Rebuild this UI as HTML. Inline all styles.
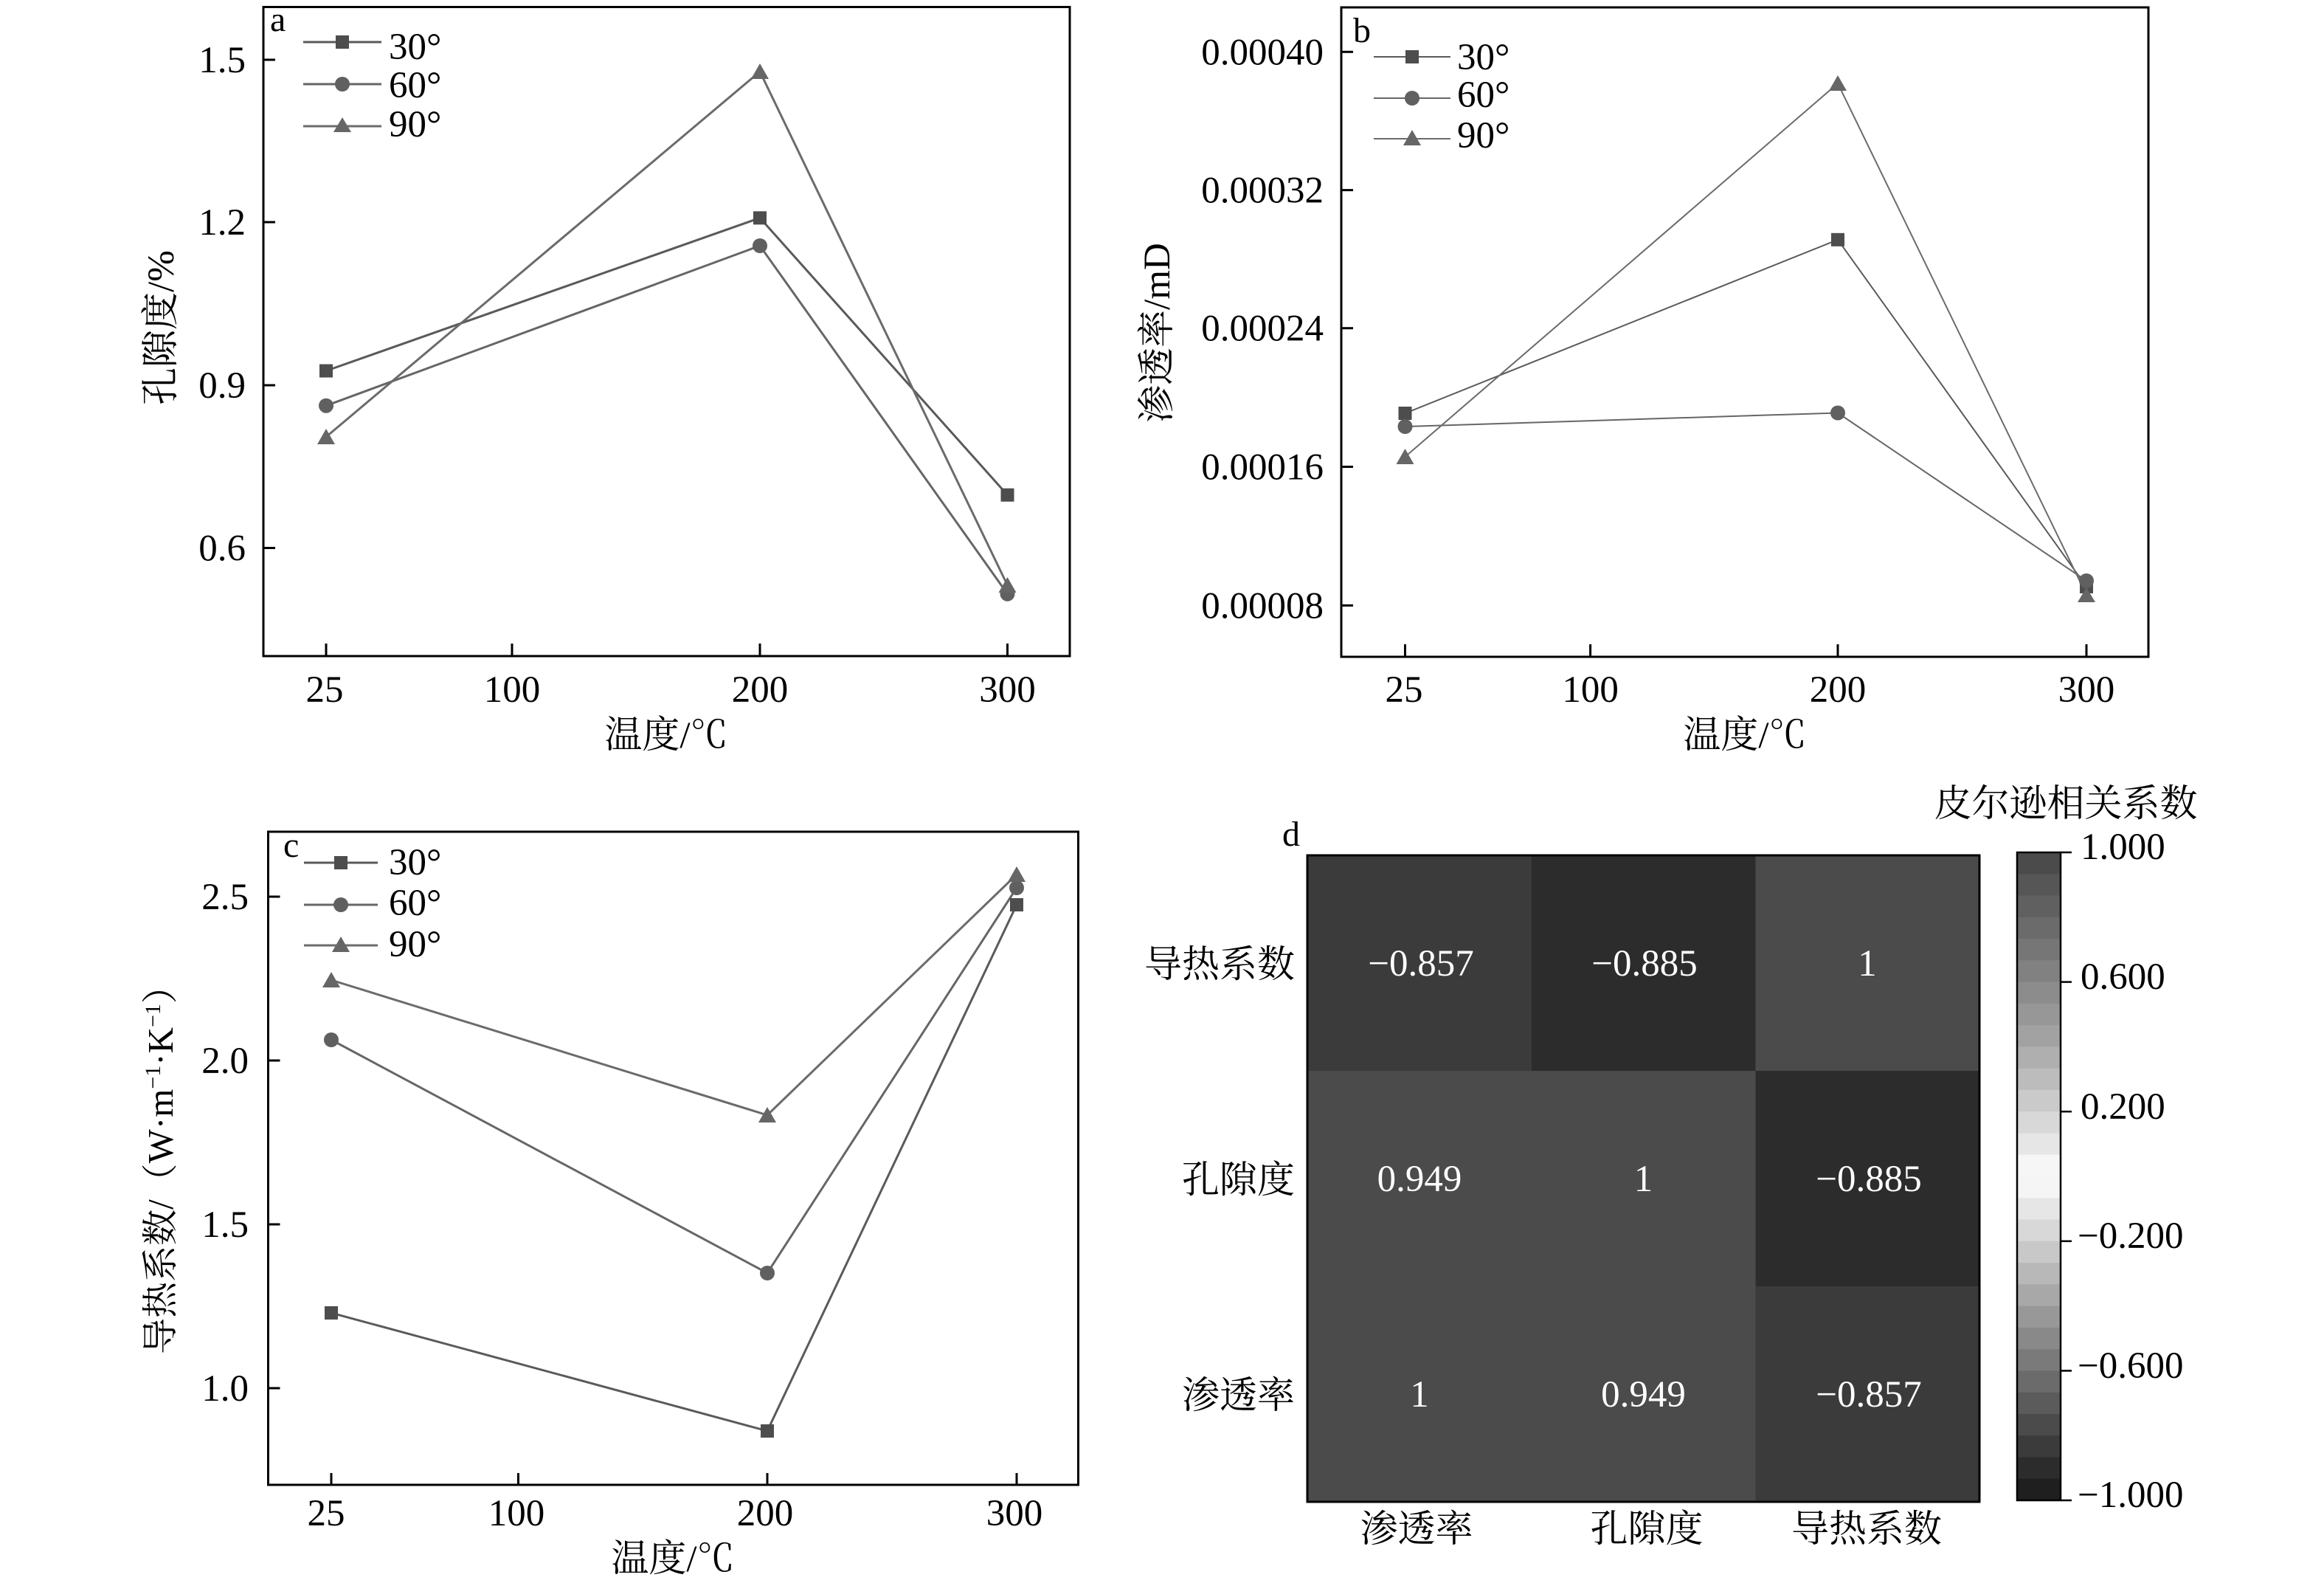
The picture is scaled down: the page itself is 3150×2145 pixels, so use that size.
<!DOCTYPE html>
<html><head><meta charset="utf-8"><style>
html,body{margin:0;padding:0;background:#fff;}
svg{display:block;}
text{font-family:"Liberation Serif","Noto Serif CJK SC",serif;fill:#000;}
</style></head><body>
<svg width="3150" height="2145" viewBox="0 0 3150 2145" xmlns="http://www.w3.org/2000/svg">
<rect x="0" y="0" width="3150" height="2145" fill="#fff"/>

<!-- ================= Panel a ================= -->
<g>
<rect x="357" y="9.5" width="1093" height="879.5" fill="none" stroke="#000" stroke-width="3"/>
<g stroke="#000" stroke-width="3">
<line x1="357" y1="81" x2="373" y2="81"/><line x1="357" y1="301" x2="373" y2="301"/>
<line x1="357" y1="522" x2="373" y2="522"/><line x1="357" y1="742.5" x2="373" y2="742.5"/>
<line x1="442" y1="889" x2="442" y2="872"/><line x1="694" y1="889" x2="694" y2="872"/>
<line x1="1030" y1="889" x2="1030" y2="872"/><line x1="1365.5" y1="889" x2="1365.5" y2="872"/>
</g>
<g font-size="51" text-anchor="end">
<text x="333" y="98">1.5</text><text x="333" y="318">1.2</text>
<text x="333" y="539">0.9</text><text x="333" y="759.5">0.6</text>
</g>
<g font-size="51" text-anchor="middle">
<text x="440" y="951">25</text><text x="694" y="951">100</text>
<text x="1030" y="951">200</text><text x="1365.5" y="951">300</text>
<text x="903" y="1013">温度/℃</text>
</g>
<text font-size="51" text-anchor="middle" transform="translate(235,444) rotate(-90)">孔隙度/%</text>
<text x="366" y="42" font-size="48">a</text>
<!-- legend -->
<g stroke-width="3">
<line x1="411" y1="57" x2="517" y2="57" stroke="#5a5a5a"/>
<line x1="411" y1="114" x2="517" y2="114" stroke="#666"/>
<line x1="411" y1="171" x2="517" y2="171" stroke="#6b6b6b"/>
</g>
<rect x="455" y="48" width="18" height="18" fill="#4d4d4d"/>
<circle cx="464" cy="114" r="10" fill="#606060"/>
<polygon points="464,159 452,179 476,179" fill="#666"/>
<g font-size="51"><text x="527" y="80">30°</text><text x="527" y="132">60°</text><text x="527" y="185">90°</text></g>
<!-- series -->
<polyline points="442,502.5 1030,295.3 1365.5,670.7" fill="none" stroke="#5a5a5a" stroke-width="3"/>
<polyline points="442,549.7 1030,333 1365.5,804.7" fill="none" stroke="#666" stroke-width="3"/>
<polyline points="442,592 1030,97 1365.5,793" fill="none" stroke="#6b6b6b" stroke-width="3"/>
<g fill="#4d4d4d"><rect x="433" y="493.5" width="18" height="18"/><rect x="1021" y="286.3" width="18" height="18"/><rect x="1356.5" y="661.7" width="18" height="18"/></g>
<g fill="#606060"><circle cx="442" cy="549.7" r="10"/><circle cx="1030" cy="333" r="10"/><circle cx="1365.5" cy="804.7" r="10"/></g>
<g fill="#666"><polygon points="442,581 430,602 454,602"/><polygon points="1030,86 1018,107 1042,107"/><polygon points="1365.5,782 1353.5,803 1377.5,803"/></g>
</g>

<!-- ================= Panel b ================= -->
<g>
<rect x="1818" y="10" width="1094" height="880" fill="none" stroke="#000" stroke-width="3"/>
<g stroke="#000" stroke-width="3">
<line x1="1818" y1="70.3" x2="1834" y2="70.3"/><line x1="1818" y1="257.6" x2="1834" y2="257.6"/>
<line x1="1818" y1="444.7" x2="1834" y2="444.7"/><line x1="1818" y1="632.5" x2="1834" y2="632.5"/>
<line x1="1818" y1="820.4" x2="1834" y2="820.4"/>
<line x1="1904.5" y1="890" x2="1904.5" y2="873"/><line x1="2155.6" y1="890" x2="2155.6" y2="873"/>
<line x1="2491" y1="890" x2="2491" y2="873"/><line x1="2828" y1="890" x2="2828" y2="873"/>
</g>
<g font-size="51" text-anchor="end">
<text x="1794" y="87.3">0.00040</text><text x="1794" y="274.6">0.00032</text>
<text x="1794" y="461.7">0.00024</text><text x="1794" y="649.5">0.00016</text>
<text x="1794" y="837.4">0.00008</text>
</g>
<g font-size="51" text-anchor="middle">
<text x="1903" y="951">25</text><text x="2155.6" y="951">100</text>
<text x="2491" y="951">200</text><text x="2828" y="951">300</text>
<text x="2365" y="1013">温度/℃</text>
</g>
<text font-size="51" text-anchor="middle" transform="translate(1585,451) rotate(-90)">渗透率/mD</text>
<text x="1834" y="57" font-size="48">b</text>
<g stroke-width="2">
<line x1="1862" y1="77" x2="1966" y2="77" stroke="#5a5a5a"/>
<line x1="1862" y1="133" x2="1966" y2="133" stroke="#666"/>
<line x1="1862" y1="188" x2="1966" y2="188" stroke="#6b6b6b"/>
</g>
<rect x="1905" y="68" width="18" height="18" fill="#4d4d4d"/>
<circle cx="1914" cy="133" r="10" fill="#606060"/>
<polygon points="1914,176 1902,197 1926,197" fill="#666"/>
<g font-size="51"><text x="1975" y="94">30°</text><text x="1975" y="145">60°</text><text x="1975" y="200">90°</text></g>
<polyline points="1904.5,560 2491,324.8 2828,795" fill="none" stroke="#5a5a5a" stroke-width="2"/>
<polyline points="1904.5,578 2491,559.5 2828,787" fill="none" stroke="#666" stroke-width="2"/>
<polyline points="1904.5,619 2491,113 2828,806" fill="none" stroke="#6b6b6b" stroke-width="2"/>
<g fill="#4d4d4d"><rect x="1895.5" y="551" width="18" height="18"/><rect x="2482" y="315.8" width="18" height="18"/><rect x="2819" y="786" width="18" height="18"/></g>
<g fill="#606060"><circle cx="1904.5" cy="578" r="10"/><circle cx="2491" cy="559.5" r="10"/><circle cx="2828" cy="787" r="10"/></g>
<g fill="#666"><polygon points="1904.5,608 1892.5,629 1916.5,629"/><polygon points="2491,102 2479,123 2503,123"/><polygon points="2828,796 2816,816 2840,816"/></g>
</g>

<!-- ================= Panel c ================= -->
<g>
<rect x="363.5" y="1127" width="1098" height="885" fill="none" stroke="#000" stroke-width="3"/>
<g stroke="#000" stroke-width="3">
<line x1="363.5" y1="1215" x2="379.5" y2="1215"/><line x1="363.5" y1="1437" x2="379.5" y2="1437"/>
<line x1="363.5" y1="1659" x2="379.5" y2="1659"/><line x1="363.5" y1="1881" x2="379.5" y2="1881"/>
<line x1="449" y1="2012" x2="449" y2="1996"/><line x1="702.5" y1="2012" x2="702.5" y2="1996"/>
<line x1="1040" y1="2012" x2="1040" y2="1996"/><line x1="1378" y1="2012" x2="1378" y2="1996"/>
</g>
<g font-size="51" text-anchor="end">
<text x="337" y="1232">2.5</text><text x="337" y="1454">2.0</text>
<text x="337" y="1676">1.5</text><text x="337" y="1898">1.0</text>
</g>
<g font-size="51" text-anchor="middle">
<text x="442" y="2067">25</text><text x="700" y="2067">100</text>
<text x="1037" y="2067">200</text><text x="1375" y="2067">300</text>
<text x="912" y="2129">温度/℃</text>
</g>
<text font-size="49" text-anchor="middle" transform="translate(234,1573) rotate(-90)">导热系数/（W·m<tspan font-size="30" dy="-17">−1</tspan><tspan dy="17">·K</tspan><tspan font-size="30" dy="-17">−1</tspan><tspan dy="17">）</tspan></text>
<text x="384" y="1161" font-size="48">c</text>
<g stroke-width="3">
<line x1="412" y1="1169" x2="512" y2="1169" stroke="#5a5a5a"/>
<line x1="412" y1="1226" x2="512" y2="1226" stroke="#666"/>
<line x1="412" y1="1281" x2="512" y2="1281" stroke="#6b6b6b"/>
</g>
<rect x="453" y="1160" width="18" height="18" fill="#4d4d4d"/>
<circle cx="462" cy="1226" r="10" fill="#606060"/>
<polygon points="462,1269 450,1290 474,1290" fill="#666"/>
<g font-size="51"><text x="527" y="1185">30°</text><text x="527" y="1240">60°</text><text x="527" y="1296">90°</text></g>
<polyline points="449,1779 1040,1939 1378,1226" fill="none" stroke="#5a5a5a" stroke-width="3"/>
<polyline points="449,1409 1040,1725 1378,1203" fill="none" stroke="#666" stroke-width="3"/>
<polyline points="449,1328 1040,1511 1378,1185" fill="none" stroke="#6b6b6b" stroke-width="3"/>
<g fill="#4d4d4d"><rect x="440" y="1770" width="18" height="18"/><rect x="1031" y="1930" width="18" height="18"/><rect x="1369" y="1217" width="18" height="18"/></g>
<g fill="#606060"><circle cx="449" cy="1409" r="10"/><circle cx="1040" cy="1725" r="10"/><circle cx="1378" cy="1203" r="10"/></g>
<g fill="#666"><polygon points="449,1317 437,1338 461,1338"/><polygon points="1040,1500 1028,1521 1052,1521"/><polygon points="1378,1174 1366,1195 1390,1195"/></g>
</g>

<!-- ================= Panel d ================= -->
<g>
<rect x="1772" y="1159" width="304" height="292" fill="#3b3b3b"/>
<rect x="2076" y="1159" width="303.5" height="292" fill="#2c2c2c"/>
<rect x="2379.5" y="1159" width="303.5" height="292" fill="#4b4b4b"/>
<rect x="1772" y="1451" width="304" height="292" fill="#4b4b4b"/>
<rect x="2076" y="1451" width="303.5" height="292" fill="#4b4b4b"/>
<rect x="2379.5" y="1451" width="303.5" height="292" fill="#2c2c2c"/>
<rect x="1772" y="1743" width="304" height="292" fill="#4b4b4b"/>
<rect x="2076" y="1743" width="303.5" height="292" fill="#4b4b4b"/>
<rect x="2379.5" y="1743" width="303.5" height="292" fill="#3b3b3b"/>
<rect x="1772" y="1159" width="911" height="876" fill="none" stroke="#000" stroke-width="3"/>
<g font-size="51" text-anchor="middle" style="fill:#fff">
<text x="1926" y="1322" style="fill:#fff">−0.857</text>
<text x="2229" y="1322" style="fill:#fff">−0.885</text>
<text x="2531" y="1322" style="fill:#fff">1</text>
<text x="1924" y="1614" style="fill:#fff">0.949</text>
<text x="2227.5" y="1614" style="fill:#fff">1</text>
<text x="2533" y="1614" style="fill:#fff">−0.885</text>
<text x="1924" y="1906" style="fill:#fff">1</text>
<text x="2227.5" y="1906" style="fill:#fff">0.949</text>
<text x="2533" y="1906" style="fill:#fff">−0.857</text>
</g>
<g font-size="51" text-anchor="end">
<text x="1755" y="1324">导热系数</text>
<text x="1755" y="1616">孔隙度</text>
<text x="1755" y="1908">渗透率</text>
</g>
<g font-size="51" text-anchor="middle">
<text x="1920" y="2089">渗透率</text>
<text x="2232" y="2089">孔隙度</text>
<text x="2530" y="2089">导热系数</text>
</g>
<text x="1750" y="1146" font-size="48" text-anchor="middle">d</text>
<!-- colorbar -->
<g>
<rect x="2734" y="1155.0" width="59" height="29.6" fill="#4b4b4b"/>
<rect x="2734" y="1184.3" width="59" height="29.6" fill="#565656"/>
<rect x="2734" y="1213.5" width="59" height="29.6" fill="#606060"/>
<rect x="2734" y="1242.8" width="59" height="29.6" fill="#6b6b6b"/>
<rect x="2734" y="1272.1" width="59" height="29.6" fill="#767676"/>
<rect x="2734" y="1301.3" width="59" height="29.6" fill="#818181"/>
<rect x="2734" y="1330.6" width="59" height="29.6" fill="#8c8c8c"/>
<rect x="2734" y="1359.9" width="59" height="29.6" fill="#979797"/>
<rect x="2734" y="1389.1" width="59" height="29.6" fill="#a2a2a2"/>
<rect x="2734" y="1418.4" width="59" height="29.6" fill="#afafaf"/>
<rect x="2734" y="1447.7" width="59" height="29.6" fill="#bcbcbc"/>
<rect x="2734" y="1476.9" width="59" height="29.6" fill="#cacaca"/>
<rect x="2734" y="1506.2" width="59" height="29.6" fill="#d8d8d8"/>
<rect x="2734" y="1535.5" width="59" height="29.6" fill="#e6e6e6"/>
<rect x="2734" y="1564.7" width="59" height="29.6" fill="#f6f6f6"/>
<rect x="2734" y="1594.0" width="59" height="29.6" fill="#f5f5f5"/>
<rect x="2734" y="1623.3" width="59" height="29.6" fill="#e6e6e6"/>
<rect x="2734" y="1652.5" width="59" height="29.6" fill="#d8d8d8"/>
<rect x="2734" y="1681.8" width="59" height="29.6" fill="#c8c8c8"/>
<rect x="2734" y="1711.1" width="59" height="29.6" fill="#b8b8b8"/>
<rect x="2734" y="1740.3" width="59" height="29.6" fill="#a8a8a8"/>
<rect x="2734" y="1769.6" width="59" height="29.6" fill="#989898"/>
<rect x="2734" y="1798.9" width="59" height="29.6" fill="#898989"/>
<rect x="2734" y="1828.1" width="59" height="29.6" fill="#7a7a7a"/>
<rect x="2734" y="1857.4" width="59" height="29.6" fill="#6b6b6b"/>
<rect x="2734" y="1886.7" width="59" height="29.6" fill="#5b5b5b"/>
<rect x="2734" y="1915.9" width="59" height="29.6" fill="#4b4b4b"/>
<rect x="2734" y="1945.2" width="59" height="29.6" fill="#3b3b3b"/>
<rect x="2734" y="1974.5" width="59" height="29.6" fill="#2c2c2c"/>
<rect x="2734" y="2003.7" width="59" height="29.3" fill="#1f1f1f"/>
<rect x="2734" y="1155" width="59" height="878" fill="none" stroke="#000" stroke-width="2.5"/>
</g>
<g stroke="#000" stroke-width="2.5">
<line x1="2793" y1="1155" x2="2808" y2="1155"/><line x1="2793" y1="1330.6" x2="2808" y2="1330.6"/>
<line x1="2793" y1="1506.2" x2="2808" y2="1506.2"/><line x1="2793" y1="1681.8" x2="2808" y2="1681.8"/>
<line x1="2793" y1="1857.4" x2="2808" y2="1857.4"/><line x1="2793" y1="2033" x2="2808" y2="2033"/>
</g>
<g font-size="51">
<text x="2820" y="1164">1.000</text>
<text x="2820" y="1340">0.600</text>
<text x="2820" y="1516">0.200</text>
<text x="2816" y="1691">−0.200</text>
<text x="2816" y="1867">−0.600</text>
<text x="2816" y="2042">−1.000</text>
</g>
<text x="2800" y="1106" font-size="51" text-anchor="middle">皮尔逊相关系数</text>
</g>
</svg>
</body></html>
